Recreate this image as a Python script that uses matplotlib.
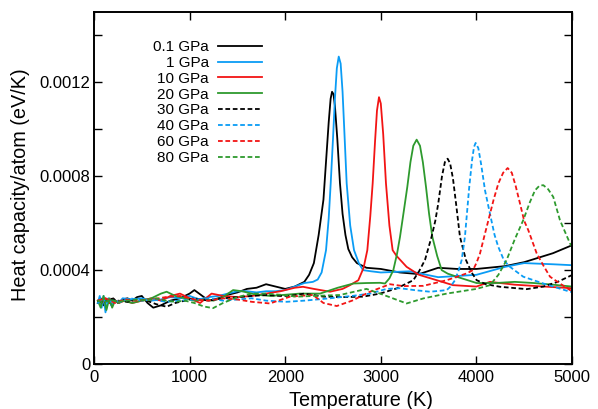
import numpy as np
import matplotlib
matplotlib.use("Agg")
import matplotlib.pyplot as plt
from matplotlib.ticker import MultipleLocator

plt.rcParams['font.family'] = ['Liberation Sans', 'DejaVu Sans']

# heat capacity values below are in units of 1e-4 eV/K
t_01 = [40, 70, 100, 130, 160, 200, 250, 300, 350, 400, 450, 500, 560, 620, 700, 800, 900,
        1000, 1050, 1100, 1200, 1300, 1400, 1500, 1600, 1700, 1800, 1900, 2000, 2100, 2200,
        2250, 2300, 2350, 2400, 2430, 2455, 2475, 2490, 2505, 2520, 2545, 2573, 2600, 2630,
        2660, 2700, 2750, 2850, 3000, 3200, 3400, 3600, 3800, 4000, 4300, 4500, 4800, 5000]
cp_01 = [2.6, 2.8, 2.5, 2.7, 2.6, 2.8, 2.6, 2.75, 2.8, 2.7, 2.85, 2.9, 2.6, 2.4, 2.5, 2.7, 2.8,
         3.0, 3.15, 3.0, 2.7, 2.8, 2.95, 3.05, 3.2, 3.25, 3.4, 3.3, 3.2, 3.3, 3.5,
         3.8, 4.3, 5.5, 7.0, 8.8, 10.3, 11.3, 11.6, 11.5, 11.0, 9.6, 7.7, 6.4, 5.5,
         4.9, 4.55, 4.3, 4.1, 4.05, 3.9, 3.83, 4.1, 4.05, 4.05, 4.17, 4.34, 4.72, 5.06]

t_1 = [40, 60, 80, 100, 120, 150, 180, 220, 260, 300, 400, 500, 600, 700, 800, 900, 1000,
       1100, 1200, 1300, 1400, 1500, 1600, 1700, 1800, 1900, 2000, 2100, 2200, 2290, 2340,
       2381, 2427, 2455, 2476, 2500, 2520, 2540, 2560, 2580, 2600, 2620, 2643, 2680, 2720,
       2770, 2814, 2900, 3000, 3300, 3600, 3800, 4000, 4300, 4500, 4800, 5000]
cp_1 = [2.6, 2.9, 2.4, 2.9, 2.2, 2.8, 2.5, 2.7, 2.6, 2.8, 2.75, 2.8, 2.7, 2.75, 2.85, 2.8, 2.9,
        2.75, 2.85, 2.9, 3.0, 3.1, 3.1, 3.05, 3.1, 3.1, 3.15, 3.3, 3.45, 3.5, 3.6,
        3.9, 4.85, 6.2, 7.7, 9.6, 11.3, 12.6, 13.1, 12.8, 11.6, 9.8, 7.7, 5.9, 4.85,
        4.3, 4.0, 3.95, 3.9, 3.95, 3.7, 3.75, 3.8, 4.14, 4.3, 4.25, 4.21]

t_10 = [40, 80, 120, 160, 200, 260, 320, 400, 500, 600, 700, 800, 900, 1000, 1110, 1230, 1350,
        1500, 1650, 1800, 1950, 2100, 2186, 2300, 2469, 2600, 2678, 2765, 2820, 2859, 2890,
        2915, 2940, 2960, 2981, 3000, 3025, 3054, 3090, 3124, 3166, 3270, 3400, 3585, 3755,
        4000, 4142, 4400, 4630, 5000]
cp_10 = [2.7, 2.6, 2.8, 2.6, 2.75, 2.6, 2.7, 2.6, 2.7, 2.8, 2.7, 2.9, 3.0, 2.8, 2.6, 3.0, 2.9,
         2.85, 2.9, 3.0, 3.1, 3.25, 3.29, 3.2, 3.08, 3.2, 3.36, 3.57, 4.1, 4.85, 6.3,
         7.7, 9.5, 10.8, 11.37, 11.1, 9.8, 7.7, 5.9, 4.85, 4.6, 4.14, 3.8, 3.57, 3.36,
         3.3, 3.5, 3.38, 3.32, 3.23]

t_20 = [40, 70, 100, 130, 160, 190, 220, 260, 300, 400, 500, 600, 700, 760, 850, 950, 1050,
        1150, 1250, 1350, 1455, 1550, 1700, 1850, 2000, 2150, 2364, 2550, 2713, 2850, 2992,
        3044, 3090, 3131, 3170, 3201, 3240, 3277, 3310, 3340, 3375, 3410, 3440, 3473, 3505,
        3539, 3590, 3637, 3700, 3793, 4003, 4200, 4400, 4600, 4800, 5000]
cp_20 = [2.7, 2.4, 2.9, 2.3, 2.8, 2.4, 2.7, 2.6, 2.7, 2.6, 2.7, 2.8, 3.0, 3.08, 2.9, 2.8, 2.7,
         2.75, 2.7, 2.85, 3.15, 3.1, 2.95, 2.9, 2.95, 3.0, 3.0, 3.25, 3.43, 3.45, 3.46,
         3.43, 3.65, 4.0, 4.7, 5.42, 6.5, 7.54, 8.6, 9.3, 9.56, 9.3, 8.6, 7.54, 6.4,
         5.42, 4.6, 4.0, 3.85, 3.72, 3.45, 3.45, 3.5, 3.45, 3.38, 3.3]

t_30 = [40, 100, 160, 250, 350, 450, 550, 650, 760, 850, 950, 1050, 1200, 1350, 1500, 1650,
        1800, 1950, 2050, 2200, 2400, 2600, 2814, 2992, 3166, 3340, 3400, 3462, 3531, 3570,
        3601, 3640, 3670, 3699, 3725, 3755, 3787, 3828, 3891, 3950, 4003, 4100, 4247, 4526,
        4700, 4850, 5000]
cp_30 = [2.7, 2.6, 2.8, 2.7, 2.65, 2.75, 2.7, 2.55, 2.44, 2.6, 2.7, 2.8, 2.7, 2.8, 2.85, 2.9,
         2.94, 2.9, 2.9, 3.0, 2.87, 2.85, 2.87, 3.0, 3.22, 3.57, 3.95, 4.43, 5.42, 6.1,
         6.84, 8.0, 8.6, 8.75, 8.55, 7.9, 6.84, 5.42, 4.43, 3.9, 3.57, 3.4, 3.29, 3.19,
         3.3, 3.5, 3.79]

t_40 = [40, 90, 140, 200, 280, 380, 500, 620, 750, 900, 1050, 1200, 1350, 1500, 1650, 1800,
        2015, 2200, 2469, 2700, 2887, 3061, 3200, 3350, 3514, 3620, 3689, 3730, 3776, 3815,
        3846, 3880, 3925, 3955, 3975, 3992, 4020, 4050, 4090, 4142, 4190, 4229, 4290, 4351,
        4490, 4700, 4979, 5000]
cp_40 = [2.6, 2.75, 2.6, 2.7, 2.65, 2.8, 2.7, 2.75, 2.65, 2.7, 2.75, 2.8, 2.7, 2.75, 2.8, 2.7,
         2.65, 2.7, 2.8, 2.9, 3.0, 3.2, 3.23, 3.15, 3.08, 3.12, 3.15, 3.3, 3.57, 4.0,
         4.43, 5.42, 7.54, 8.7, 9.25, 9.42, 9.2, 8.5, 7.4, 6.4, 5.5, 4.99, 4.4, 4.14,
         3.72, 3.43, 3.08, 3.07]

t_60 = [40, 120, 220, 320, 450, 600, 750, 900, 1050, 1200, 1350, 1500, 1650, 1841, 2050,
        2291, 2400, 2539, 2700, 2887, 3096, 3235, 3444, 3689, 3898, 3964, 4000, 4037, 4080,
        4130, 4180, 4230, 4280, 4327, 4370, 4410, 4456, 4500, 4543, 4631, 4700, 4770, 4874,
        4979, 5000]
cp_60 = [2.7, 2.8, 2.6, 2.75, 2.7, 2.75, 2.85, 2.9, 2.75, 2.7, 2.8, 2.75, 2.65, 2.58, 2.87,
         2.94, 2.6, 2.47, 2.7, 3.08, 3.4, 3.32, 3.33, 3.57, 3.86, 4.0, 4.3, 4.7, 5.4,
         6.2, 7.0, 7.7, 8.15, 8.35, 8.15, 7.6, 6.84, 6.1, 5.7, 4.71, 4.2, 3.72, 3.43,
         3.15, 3.12]

t_80 = [40, 100, 160, 250, 350, 450, 550, 650, 750, 850, 950, 1050, 1150, 1245, 1350, 1500,
        1650, 1800, 1950, 2120, 2300, 2573, 2850, 2992, 3270, 3450, 3689, 4000, 4142, 4230,
        4316, 4400, 4490, 4560, 4613, 4660, 4700, 4750, 4804, 4874, 4930, 4979, 5000]
cp_80 = [2.7, 2.6, 2.75, 2.65, 2.7, 2.75, 2.7, 2.8, 2.7, 2.65, 2.7, 2.6, 2.45, 2.38, 2.6, 2.85,
         3.0, 3.0, 2.95, 2.87, 2.9, 2.94, 3.2, 3.0, 2.58, 2.8, 3.0, 3.2, 3.36, 3.8,
         4.43, 5.3, 6.13, 6.9, 7.4, 7.6, 7.62, 7.45, 7.12, 6.13, 5.6, 5.14, 5.0]

labels = ['0.1 GPa', '1 GPa', '10 GPa', '20 GPa', '30 GPa', '40 GPa', '60 GPa', '80 GPa']
temps = [t_01, t_1, t_10, t_20, t_30, t_40, t_60, t_80]
cps = [cp_01, cp_1, cp_10, cp_20, cp_30, cp_40, cp_60, cp_80]

black = '#000000'
blue = '#0a9cf5'
red = '#f21414'
green = '#2e9a2e'
colors = [black, blue, red, green, black, blue, red, green]
styles = ['-', '-', '-', '-', '--', '--', '--', '--']

fig = plt.figure(figsize=(5.98, 4.09), dpi=100)
ax = fig.add_axes([94 / 598, 1 - 364 / 409, 478 / 598, 352 / 409])

for t, c, lab, col, ls in zip(temps, cps, labels, colors, styles):
    line, = ax.plot(t, np.array(c) * 1e-4, color=col, lw=1.3, ls=ls, label=lab)
    if ls == '--':
        line.set_dashes((2.6, 1.5))

ax.set_xlim(0, 5000)
ax.set_ylim(0, 0.0015)
ax.xaxis.set_major_locator(MultipleLocator(1000))
ax.yaxis.set_minor_locator(MultipleLocator(0.0002))
ax.set_yticks([0, 0.0004, 0.0008, 0.0012])
ax.set_yticklabels(['0', '0.0004', '0.0008', '0.0012'])
ax.tick_params(which='both', direction='in', top=True, right=True, labelsize=12,
               length=6, width=1)
ax.tick_params(axis='x', pad=4)
ax.tick_params(axis='y', pad=2.5)
for s in ax.spines.values():
    s.set_linewidth(1.4)

ax.set_xlabel('Temperature (K)', fontsize=14.3)
ax.xaxis.set_label_coords(0.559, -0.119)
ax.xaxis.label.set_va('baseline')
ax.set_ylabel('Heat capacity/atom (eV/K)', fontsize=14.3)
ax.yaxis.set_label_coords(-0.153, 0.51)
ax.yaxis.label.set_va('center')

ax.legend(loc='upper left', bbox_to_anchor=(0.1234, 0.92), frameon=False, markerfirst=False,
          fontsize=11, handlelength=2.86, labelspacing=0.12, handletextpad=0.6,
          borderpad=0, borderaxespad=0)

fig.savefig('out.png', dpi=100)
